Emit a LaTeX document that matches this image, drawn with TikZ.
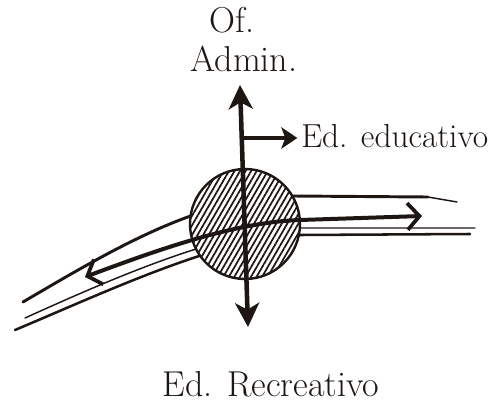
\documentclass[tikz,border=0pt]{standalone}
\usepackage{tikz}
\usetikzlibrary{arrows.meta}
\usetikzlibrary{patterns.meta}
\usetikzlibrary{calc}
\usepackage{xcolor}
\definecolor{ink}{RGB}{30,22,18}

\begin{document}
\begin{tikzpicture}[x=0.75pt,y=0.75pt,yscale=-1,xscale=1,
  rotulo/.style={inner sep=0.75pt,font=\fontsize{27}{30}\selectfont,text=ink},
  gruesa/.style={draw=ink,line width=3.4pt},
  via/.style={draw=ink,line width=1.7pt,line cap=round}]
\useasboundingbox (0,0) rectangle (500,414);

%Straight Lines [road, upper]
\draw [via, line width=2.2pt] (23,302) .. controls (120,245) and (200,198) .. (293,196) -- (428,197) ;
\draw [via, line width=1.1pt] (428,197) -- (457,202) ;
%Straight Lines [road, lower thin]
\draw [via, line width=1.1pt] (25,318) .. controls (120,275) and (220,232) .. (300,228) -- (475,228) ;
%Straight Lines [road, lower]
\draw [via, line width=1.9pt] (15,330) .. controls (110,290) and (220,238) .. (300,235) -- (470,234) ;

%Shape: Circle
\node [circle, minimum size=82.5pt, inner sep=0pt, draw=ink, line width=1.8pt, preaction={fill=white},
  pattern={Lines[angle=60,distance=3.6pt,line width=1.3pt]}, pattern color=ink] (nodo) at (245,224) {} ;

% Text Node
\draw (232,32) node [rotulo, anchor=base] (of) {Of.} ;
% Text Node
\draw (244,71) node [rotulo, anchor=base] (admin) {Admin.} ;
% Text Node
\draw (300,147) node [rotulo, anchor=base west, font=\fontsize{25}{28}\selectfont] (educ) {Ed. educativo} ;
% Text Node
\draw (271,396) node [rotulo, anchor=base] (recre) {Ed. Recreativo} ;

\coordinate (fIzq) at (85,277) ;
\coordinate (fDer) at (422,216) ;
\coordinate (arriba) at (240,85) ;
\coordinate (abajo) at (248,327) ;
\coordinate (rama) at ($(arriba)!0.219!(abajo)$) ;

%Straight Lines [road arrow]
\draw [via, line width=3pt, {Straight Barb[length=9pt,width=20pt,line width=2.8pt]}-{Straight Barb[length=9pt,width=20pt,line width=2.8pt]}] (fIzq) .. controls (170,245) and (240,222) .. (300,220) -- (fDer) ;
%Straight Lines [vertical]
\draw [gruesa, {Stealth[length=18pt,width=18pt,inset=5pt]}-{Stealth[length=18pt,width=18pt,inset=5pt]}] (arriba) -- (abajo) ;
%Straight Lines [branch]
\draw [gruesa, -{Stealth[length=12pt,width=16pt,inset=3pt]}, shorten >=2pt] (rama) -- (rama -| educ.west) ;

\end{tikzpicture}
\end{document}
